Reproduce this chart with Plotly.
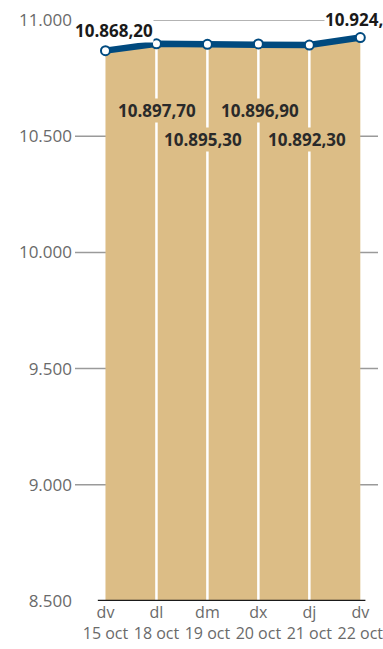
import plotly.graph_objects as go

# Daily closing values of the index
days = ["dv", "dl", "dm", "dx", "dj", "dv"]
dates = ["15 oct", "18 oct", "19 oct", "20 oct", "21 oct", "22 oct"]
values = [10868.20, 10897.70, 10895.30, 10896.90, 10892.30, 10924.40]
y_ticks = [8500, 9000, 9500, 10000, 10500, 11000]
y_tick_text = ["8.500", "9.000", "9.500", "10.000", "10.500", "11.000"]

BEIGE = "#dcbd86"
BLUE = "#004a7f"
GRID = "#9a9a9a"
TEXT = "#6a6a6a"
FONT = "Open Sans"

x = list(range(len(values)))
ticktext = [f"{d}<br>{dt}" for d, dt in zip(days, dates)]


def fmt(v):
    s = f"{v:,.2f}"
    return s.replace(",", "X").replace(".", ",").replace("X", ".")


fig = go.Figure()

# filled area under the series
fig.add_trace(go.Scatter(
    x=x, y=values, mode="lines", line=dict(width=0, color=BEIGE),
    fill="tozeroy", fillcolor=BEIGE, hoverinfo="skip", showlegend=False,
))

# white drop lines from interior points to the baseline
vx, vy = [], []
for i in x[1:-1]:
    vx += [i, i, None]
    vy += [y_ticks[0], values[i], None]
fig.add_trace(go.Scatter(
    x=vx, y=vy, mode="lines", line=dict(width=2.5, color="white"),
    hoverinfo="skip", showlegend=False,
))

# the series line with markers
fig.add_trace(go.Scatter(
    x=x, y=values, mode="lines+markers",
    line=dict(width=6.5, color=BLUE),
    marker=dict(size=9, color="white", line=dict(width=2, color=BLUE)),
    showlegend=False, cliponaxis=False,
))

# gridlines beneath the area
for t in y_ticks[1:]:
    fig.add_shape(type="line", xref="paper", x0=0, x1=1, yref="y", y0=t, y1=t,
                  line=dict(color=GRID, width=1.5), layer="below")

# baseline
fig.add_shape(type="line", xref="x", x0=-0.15, x1=5.1, yref="y",
              y0=y_ticks[0], y1=y_ticks[0], line=dict(color="#1a1a1a", width=2.5),
              layer="above")

# value labels
label_font_bold = dict(family=FONT, size=17, color="#1a1a1a")
fig.add_annotation(x=0, y=values[0], text=f"<b>{fmt(values[0])}</b>",
                   showarrow=False, xshift=9, yshift=20, font=label_font_bold,
                   bgcolor="white", borderpad=0)
fig.add_annotation(x=5, y=values[5], text=f"<b>{fmt(values[5])}</b>",
                   showarrow=False, xshift=4, yshift=18, font=label_font_bold,
                   bgcolor="white", borderpad=0)
shifts = {1: (1, -67), 2: (-4, -95), 3: (2, -67), 4: (-2, -94)}
for i, (dx, dy) in shifts.items():
    fig.add_annotation(x=i, y=values[i], text=f"<b>{fmt(values[i])}</b>",
                       showarrow=False, xshift=dx, yshift=dy,
                       font=dict(family=FONT, size=17, color="#2a2a2a"),
                       bgcolor=BEIGE, borderpad=0)

fig.update_xaxes(
    range=[-0.598, 5.347], tickmode="array", tickvals=x, ticktext=ticktext,
    showgrid=False, zeroline=False, showline=False, ticks="",
    ticklabeloverflow="allow",
    tickfont=dict(family=FONT, size=16, color=TEXT),
)
fig.update_yaxes(
    range=[y_ticks[0], y_ticks[-1]], tickmode="array", tickvals=y_ticks,
    ticktext=y_tick_text, showgrid=False, zeroline=False, showline=False,
    ticks="", ticklabelstandoff=2,
    tickfont=dict(family=FONT, size=17, color=TEXT),
)
fig.update_layout(
    width=383, height=649,
    margin=dict(l=75, r=0, t=20, b=48),
    paper_bgcolor="white", plot_bgcolor="white",
    showlegend=False,
)

fig.write_html("out.html")
